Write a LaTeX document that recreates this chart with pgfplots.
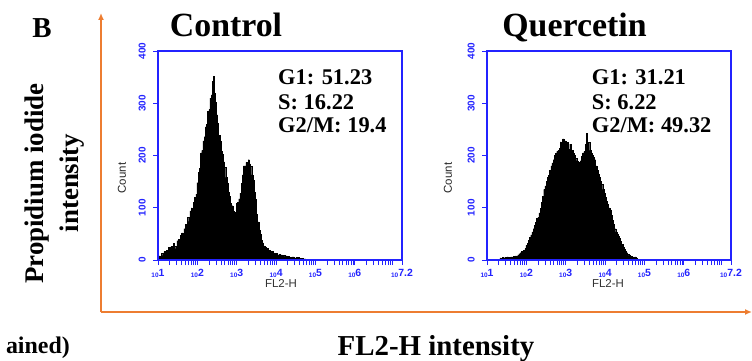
\documentclass[border=0pt]{standalone}
\usepackage{fontspec}
\setmainfont{Liberation Serif}
\setsansfont{Liberation Sans}
\usepackage{pgfplots}
\pgfplotsset{compat=1.18}
\usepackage{pgfplotstable}
\usetikzlibrary{arrows.meta}
\definecolor{axblue}{RGB}{35,35,255}
\definecolor{orng}{RGB}{237,125,49}
\newcommand\tl[1]{{\sffamily\bfseries\raisebox{-1.2bp}{\fontsize{6.5}{6.5}\selectfont 10}{\fontsize{10.5}{10.5}\selectfont #1}}}
\pgfplotstableread{
d c
1.00 4
1.03 8
1.06 6
1.09 13
1.12 9
1.15 16
1.18 12
1.21 18
1.24 14
1.27 24
1.30 17
1.33 26
1.36 20
1.39 32
1.42 26
1.45 22
1.48 37
1.51 40
1.54 31
1.57 47
1.60 52
1.63 45
1.66 60
1.69 68
1.72 60
1.75 82
1.78 74
1.81 94
1.84 100
1.87 93
1.90 110
1.93 120
1.96 126
1.99 148
2.02 168
2.05 176
2.08 205
2.11 210
2.14 228
2.17 236
2.20 255
2.23 260
2.26 285
2.29 288
2.32 310
2.35 316
2.38 342
2.40 351
2.42 320
2.45 302
2.48 278
2.51 262
2.54 238
2.57 227
2.60 208
2.63 202
2.66 188
2.69 177
2.72 158
2.75 147
2.78 130
2.81 122
2.84 108
2.87 104
2.90 94
2.93 91
2.96 86
2.99 108
3.02 110
3.05 117
3.08 128
3.11 147
3.14 163
3.17 180
3.20 180
3.23 187
3.26 186
3.29 192
3.32 184
3.35 179
3.38 163
3.41 153
3.44 130
3.47 116
3.50 88
3.53 73
3.56 58
3.59 49
3.62 38
3.65 33
3.68 27
3.71 25
3.74 21
3.77 22
3.80 18
3.83 19
3.86 16
3.89 17
3.92 14
3.95 13
3.98 12
4.01 13
4.04 10
4.07 11
4.10 9
4.13 10
4.16 8
4.19 9
4.22 7
4.25 8
4.28 6
4.31 7
4.34 5
4.40 6
4.46 4
4.52 5
4.58 3
4.64 3
4.70 2
4.76 0
}\ctrl
\pgfplotstableread{
d c
1.30 0
1.33 4
1.36 3
1.39 5
1.42 4
1.45 5
1.48 4
1.51 6
1.54 5
1.57 4
1.60 6
1.63 5
1.66 7
1.69 6
1.72 8
1.75 7
1.78 10
1.81 12
1.84 14
1.87 16
1.90 15
1.93 19
1.96 22
1.99 28
2.02 32
2.05 38
2.08 44
2.11 48
2.14 54
2.17 60
2.20 66
2.23 72
2.26 80
2.29 82
2.32 90
2.35 99
2.38 110
2.41 122
2.44 135
2.47 142
2.50 150
2.53 158
2.56 162
2.59 172
2.62 180
2.65 186
2.68 192
2.71 200
2.74 204
2.77 208
2.80 210
2.83 214
2.86 226
2.89 218
2.92 232
2.95 220
2.98 228
3.01 215
3.04 225
3.07 212
3.10 222
3.13 208
3.16 210
3.19 204
3.22 200
3.25 195
3.28 190
3.31 188
3.34 186
3.37 190
3.40 198
3.43 205
3.46 208
3.49 222
3.52 243
3.55 212
3.58 225
3.61 210
3.64 205
3.67 200
3.70 196
3.73 192
3.76 180
3.79 172
3.82 165
3.85 158
3.88 150
3.91 145
3.94 135
3.97 128
4.00 120
4.03 112
4.06 106
4.09 100
4.12 96
4.15 86
4.18 76
4.21 68
4.24 60
4.27 54
4.30 50
4.33 46
4.36 42
4.39 36
4.42 30
4.45 24
4.48 20
4.51 17
4.54 14
4.57 11
4.60 9
4.63 8
4.66 7
4.69 6
4.72 5
4.75 6
4.78 4
4.81 2
4.84 1
4.87 0
}\quer
\pgfplotsset{flow/.style={
  width=244bp, height=209bp, scale only axis, anchor=south west,
  xmin=1, xmax=7.2, ymin=0, ymax=400,
  axis on top,
  axis line style={axblue, line width=1.2bp},
  every tick/.style={axblue, line width=0.9bp},
  tick align=outside, tick pos=left,
  major tick length=5bp, minor tick length=5bp,
  xtick={1,2,3,4,5,6,7.2},
  xticklabels={\tl{1},\tl{2},\tl{3},\tl{4},\tl{5},\tl{6},\tl{7.2}},
  minor xtick={1.301,1.477,1.602,1.699,1.778,1.845,1.903,1.954,
    2.301,2.477,2.602,2.699,2.778,2.845,2.903,2.954,
    3.301,3.477,3.602,3.699,3.778,3.845,3.903,3.954,
    4.301,4.477,4.602,4.699,4.778,4.845,4.903,4.954,
    5.301,5.477,5.602,5.699,5.778,5.845,5.903,5.954,
    6.301,6.477,6.602,6.699,6.778,6.845,6.903,6.954},
  ytick={0,100,200,300,400},
  yticklabels={0,100,200,300,400},
  xticklabel style={text=axblue, inner sep=1bp, yshift=-3bp},
  yticklabel style={text=axblue, rotate=90, anchor=south, inner sep=2bp, yshift=5bp, font=\sffamily\bfseries\fontsize{10}{10}\selectfont},
}}
\begin{document}
\begin{tikzpicture}[x=1bp,y=1bp]
\useasboundingbox (0,0) rectangle (752,360);
% orange frame
\draw[orng, line width=1.6bp, -{Latex[length=7bp,width=6bp]}] (101,48) -- (101,347);
\draw[orng, line width=1.6bp, -{Latex[length=7bp,width=6bp]}] (101,48) -- (752,48);
\begin{axis}[flow, at={(158bp,100bp)}]
\addplot[fill=black, draw=black, line width=0.3bp, const plot mark left] table[x=d,y=c] {\ctrl} \closedcycle;
\end{axis}
\begin{axis}[flow, at={(487bp,100bp)}]
\addplot[fill=black, draw=black, line width=0.3bp, const plot mark left] table[x=d,y=c] {\quer} \closedcycle;
\end{axis}
% titles and labels
\node[anchor=base, font=\bfseries\fontsize{34}{34}\selectfont, inner sep=0] at (226,324) {Control};
\node[anchor=base, font=\bfseries\fontsize{34}{34}\selectfont, inner sep=0] at (574.5,324) {Quercetin};
\node[anchor=base, font=\bfseries\fontsize{29}{29}\selectfont, inner sep=0] at (42,323) {B};
\node[rotate=90, font=\bfseries\fontsize{27}{27}\selectfont, inner sep=0] at (37,176.5) {Propidium iodide};
\node[rotate=90, font=\bfseries\fontsize{27}{27}\selectfont, inner sep=0] at (72,177) {intensity};
\node[anchor=base, font=\bfseries\fontsize{29}{29}\selectfont, inner sep=0] at (436,5) {FL2-H intensity};
\node[anchor=base east, font=\bfseries\fontsize{24}{24}\selectfont, inner sep=0] at (70,7) {ained)};
% annotations
\foreach \xx/\a/\b/\c in {278/51.23/16.22/19.4, 591.7/31.21/6.22/49.32}{
  \node[anchor=base west, font=\bfseries\fontsize{22.5}{22.5}\selectfont, inner sep=0] at (\xx,276) {G1: \a};
  \node[anchor=base west, font=\bfseries\fontsize{22.5}{22.5}\selectfont, inner sep=0] at (\xx,251) {S: \b};
  \node[anchor=base west, font=\bfseries\fontsize{22.5}{22.5}\selectfont, inner sep=0] at (\xx,227.5) {G2/M: \c};
}
% axis labels
\node[rotate=90, font=\sffamily\fontsize{11.5}{11.5}\selectfont, text=black!85] at (122,182) {Count};
\node[rotate=90, font=\sffamily\fontsize{11.5}{11.5}\selectfont, text=black!85] at (448,182) {Count};
\node[font=\sffamily\fontsize{11.5}{11.5}\selectfont, text=black!80] at (281,77) {FL2-H};
\node[font=\sffamily\fontsize{11.5}{11.5}\selectfont, text=black!80] at (608,77) {FL2-H};
\end{tikzpicture}
\end{document}
